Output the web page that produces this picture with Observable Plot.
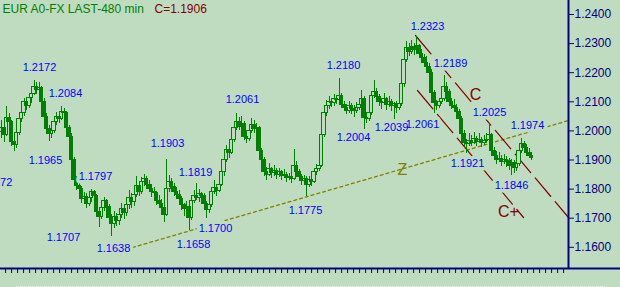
<!DOCTYPE html>
<html><head><meta charset="utf-8">
<script src="https://cdn.jsdelivr.net/npm/d3@7"></script>
<script src="https://cdn.jsdelivr.net/npm/@observablehq/plot@0.6"></script>
<style>
html,body{margin:0;padding:0;background:#c0dcc0;}
#chart{width:620px;height:287px;overflow:hidden;}
</style></head><body><div id="chart"></div>
<script>
// OHLC of EUR 480-min bars
const opens = [
1.1995,1.2010,1.1985,1.2045,1.2030,1.1962,1.1950,1.1992,1.2040,1.2062,
1.2098,1.2085,1.2112,1.2128,1.2150,1.2142,1.2148,1.2100,1.2048,1.2005,
1.1988,1.2000,1.2030,1.2048,1.2040,1.2066,1.2060,1.2010,1.1980,1.1900,
1.1830,1.1812,1.1800,1.1765,1.1772,1.1750,1.1768,1.1790,1.1775,1.1722,
1.1705,1.1735,1.1758,1.1740,1.1700,1.1680,1.1705,1.1690,1.1712,1.1730,
1.1718,1.1745,1.1770,1.1755,1.1780,1.1810,1.1790,1.1825,1.1835,1.1815,
1.1800,1.1790,1.1785,1.1760,1.1750,1.1735,1.1712,1.1800,1.1825,1.1808,
1.1790,1.1780,1.1765,1.1745,1.1730,1.1740,1.1700,1.1760,1.1775,1.1768,
1.1782,1.1775,1.1750,1.1728,1.1745,1.1790,1.1805,1.1795,1.1815,1.1858,
1.1900,1.1935,1.1925,1.1968,1.2010,1.2030,1.2015,1.2025,1.1980,1.1972,
1.2000,1.2020,1.2005,1.2010,1.1930,1.1900,1.1860,1.1850,1.1868,1.1855,
1.1862,1.1848,1.1858,1.1845,1.1850,1.1838,1.1842,1.1835,1.1880,1.1860,
1.1840,1.1828,1.1835,1.1815,1.1830,1.1825,1.1858,1.1870,1.1880,1.1985,
1.2060,1.2085,1.2100,1.2095,1.2110,1.2105,1.2120,1.2090,1.2080,1.2070,
1.2085,1.2075,1.2068,1.2080,1.2090,1.2110,1.2045,1.2040,1.2060,1.2120,
1.2135,1.2115,1.2100,1.2095,1.2108,1.2090,1.2100,1.2085,1.2092,1.2080,
1.2092,1.2160,1.2245,1.2285,1.2270,1.2290,1.2278,1.2292,1.2265,1.2250,
1.2235,1.2220,1.2200,1.2130,1.2095,1.2085,1.2098,1.2110,1.2150,1.2135,
1.2100,1.2085,1.2078,1.2065,1.2040,1.1990,1.1960,1.1955,1.1965,1.1960,
1.1972,1.1962,1.1968,1.1958,1.1965,1.1970,1.1985,1.1930,1.1915,1.1900,
1.1905,1.1892,1.1900,1.1895,1.1880,1.1890,1.1872,1.1885,1.1930,1.1955,
1.1940,1.1925,1.1915];
const highs = [
1.2035,1.2025,1.2085,1.2060,1.2035,1.1980,1.2005,1.2055,1.2080,1.2110,
1.2115,1.2130,1.2145,1.2172,1.2165,1.2168,1.2152,1.2110,1.2060,1.2020,
1.2015,1.2045,1.2062,1.2058,1.2084,1.2078,1.2068,1.2020,1.1990,1.1910,
1.1845,1.1830,1.1810,1.1790,1.1785,1.1782,1.1797,1.1795,1.1780,1.1730,
1.1750,1.1772,1.1765,1.1748,1.1712,1.1722,1.1715,1.1728,1.1750,1.1742,
1.1765,1.1795,1.1785,1.1800,1.1845,1.1822,1.1840,1.1850,1.1842,1.1830,
1.1815,1.1805,1.1792,1.1778,1.1765,1.1745,1.1903,1.1848,1.1835,1.1818,
1.1805,1.1795,1.1775,1.1752,1.1758,1.1748,1.1770,1.1795,1.1819,1.1800,
1.1790,1.1785,1.1758,1.1760,1.1800,1.1830,1.1815,1.1840,1.1870,1.1915,
1.1950,1.1945,1.1985,1.2030,1.2061,1.2045,1.2048,1.2032,1.1995,1.2015,
1.2042,1.2035,1.2025,1.2015,1.1940,1.1910,1.1875,1.1888,1.1875,1.1880,
1.1870,1.1872,1.1865,1.1868,1.1858,1.1855,1.1850,1.1935,1.1895,1.1868,
1.1850,1.1848,1.1842,1.1842,1.1840,1.1870,1.1885,1.1895,1.1995,1.2075,
1.2105,1.2118,1.2112,1.2125,1.2122,1.2180,1.2128,1.2102,1.2092,1.2100,
1.2095,1.2088,1.2098,1.2105,1.2140,1.2118,1.2058,1.2075,1.2135,1.2172,
1.2145,1.2125,1.2112,1.2130,1.2115,1.2118,1.2108,1.2098,1.2100,1.2108,
1.2175,1.2262,1.2308,1.2300,1.2310,1.2302,1.2323,1.2298,1.2280,1.2262,
1.2255,1.2232,1.2210,1.2140,1.2105,1.2112,1.2130,1.2189,1.2165,1.2142,
1.2112,1.2108,1.2092,1.2075,1.2048,1.2000,1.1972,1.1990,1.1985,1.1995,
1.1982,1.1992,1.1978,1.1985,1.1990,1.2025,1.1992,1.1942,1.1928,1.1925,
1.1915,1.1920,1.1912,1.1905,1.1902,1.1898,1.1895,1.1945,1.1974,1.1965,
1.1952,1.1938,1.1925];
const lows = [
1.1975,1.1960,1.1980,1.2010,1.1945,1.1930,1.1940,1.1985,1.2030,1.2050,
1.2070,1.2078,1.2095,1.2120,1.2125,1.2130,1.2090,1.2035,1.1990,1.1965,
1.1975,1.1992,1.2020,1.2025,1.2035,1.2045,1.2000,1.1965,1.1890,1.1815,
1.1795,1.1785,1.1750,1.1748,1.1735,1.1740,1.1755,1.1760,1.1705,1.1668,
1.1695,1.1722,1.1720,1.1680,1.1638,1.1665,1.1670,1.1675,1.1700,1.1695,
1.1705,1.1730,1.1735,1.1740,1.1770,1.1775,1.1782,1.1810,1.1800,1.1788,
1.1772,1.1765,1.1745,1.1738,1.1720,1.1685,1.1705,1.1790,1.1795,1.1775,
1.1765,1.1748,1.1728,1.1705,1.1715,1.1658,1.1692,1.1750,1.1760,1.1755,
1.1760,1.1738,1.1700,1.1715,1.1738,1.1780,1.1775,1.1788,1.1808,1.1845,
1.1890,1.1905,1.1918,1.1960,1.2000,1.2000,1.2005,1.1968,1.1958,1.1965,
1.1992,1.1990,1.1985,1.1920,1.1885,1.1845,1.1830,1.1842,1.1838,1.1845,
1.1832,1.1840,1.1830,1.1835,1.1822,1.1828,1.1820,1.1830,1.1850,1.1828,
1.1812,1.1815,1.1775,1.1805,1.1808,1.1818,1.1848,1.1860,1.1875,1.1978,
1.2050,1.2075,1.2080,1.2085,1.2090,1.2098,1.2078,1.2065,1.2055,1.2060,
1.2058,1.2045,1.2060,1.2070,1.2080,1.2004,1.2025,1.2032,1.2052,1.2110,
1.2100,1.2085,1.2075,1.2088,1.2070,1.2080,1.2068,1.2039,1.2060,1.2070,
1.2085,1.2150,1.2235,1.2255,1.2262,1.2260,1.2270,1.2250,1.2238,1.2220,
1.2205,1.2185,1.2115,1.2061,1.2070,1.2078,1.2090,1.2102,1.2120,1.2090,
1.2072,1.2068,1.2050,1.2030,1.1975,1.1945,1.1921,1.1945,1.1948,1.1952,
1.1948,1.1955,1.1942,1.1950,1.1955,1.1962,1.1920,1.1900,1.1885,1.1890,
1.1878,1.1885,1.1875,1.1865,1.1846,1.1855,1.1862,1.1878,1.1922,1.1928,
1.1915,1.1905,1.1898];
const closes = [
1.2010,1.1985,1.2045,1.2030,1.1962,1.1950,1.1992,1.2040,1.2062,1.2098,
1.2085,1.2112,1.2128,1.2150,1.2142,1.2148,1.2100,1.2048,1.2005,1.1988,
1.2000,1.2030,1.2048,1.2040,1.2066,1.2060,1.2010,1.1980,1.1900,1.1830,
1.1812,1.1800,1.1765,1.1772,1.1750,1.1768,1.1790,1.1775,1.1722,1.1705,
1.1735,1.1758,1.1740,1.1700,1.1680,1.1705,1.1690,1.1712,1.1730,1.1718,
1.1745,1.1770,1.1755,1.1780,1.1810,1.1790,1.1825,1.1835,1.1815,1.1800,
1.1790,1.1785,1.1760,1.1750,1.1735,1.1712,1.1800,1.1825,1.1808,1.1790,
1.1780,1.1765,1.1745,1.1730,1.1740,1.1700,1.1760,1.1775,1.1768,1.1782,
1.1775,1.1750,1.1728,1.1745,1.1790,1.1805,1.1795,1.1815,1.1858,1.1900,
1.1935,1.1925,1.1968,1.2010,1.2030,1.2015,1.2025,1.1980,1.1972,1.2000,
1.2020,1.2005,1.2010,1.1930,1.1900,1.1860,1.1850,1.1868,1.1855,1.1862,
1.1848,1.1858,1.1845,1.1850,1.1838,1.1842,1.1835,1.1880,1.1860,1.1840,
1.1828,1.1835,1.1815,1.1830,1.1825,1.1858,1.1870,1.1880,1.1985,1.2060,
1.2085,1.2100,1.2095,1.2110,1.2105,1.2120,1.2090,1.2080,1.2070,1.2085,
1.2075,1.2068,1.2080,1.2090,1.2110,1.2045,1.2040,1.2060,1.2120,1.2135,
1.2115,1.2100,1.2095,1.2108,1.2090,1.2100,1.2085,1.2092,1.2080,1.2092,
1.2160,1.2245,1.2285,1.2270,1.2290,1.2278,1.2292,1.2265,1.2250,1.2235,
1.2220,1.2200,1.2130,1.2095,1.2085,1.2098,1.2110,1.2150,1.2135,1.2100,
1.2085,1.2078,1.2065,1.2040,1.1990,1.1960,1.1955,1.1965,1.1960,1.1972,
1.1962,1.1968,1.1958,1.1965,1.1970,1.1985,1.1930,1.1915,1.1900,1.1905,
1.1892,1.1900,1.1895,1.1880,1.1890,1.1872,1.1885,1.1930,1.1955,1.1940,
1.1925,1.1915,1.1906];

// price axis ticks
const yTicks = [1.16, 1.17, 1.18, 1.19, 1.20, 1.21, 1.22, 1.23, 1.24];

// pivot annotations (text, bar position, price position)
const pivotText = ["1.1972","1.2172","1.2084","1.1965","1.1797","1.1707","1.1638","1.1903","1.1819","1.1658","1.1700","1.2061","1.1775","1.2180","1.2004","1.2039","1.2061","1.2323","1.2189","1.2025","1.1974","1.1921","1.1846"];
const pivotBar  = [-2.4, 15.2, 25.6, 17.6, 37.6, 24.8, 44.8, 66.4, 77.6, 76.8, 85.6, 96.4, 121.6, 136.8, 140.8, 156.0, 168.4, 170.4, 179.6, 195.2, 210.4, 186.4, 204.0];
const pivotPrice= [1.18227,1.22179,1.21285,1.18983,1.18433,1.16337,1.15959,1.19567,1.18570,1.16096,1.16646,1.21079,1.17265,1.22247,1.19773,1.20117,1.20220,1.23588,1.22316,1.20632,1.20186,1.18880,1.18124];

// trend line Z and channel lines C / C+
const zBar = [52.4, 226.8], zPrice = [1.15993, 1.20357];
const cBar = [165.6, 226.8], cPrice = [1.23278, 1.17024];
const cpBar = [166.4, 208.8], cpPrice = [1.21388, 1.17024];
const tagText = ["Z", "C", "C+"];
const tagBar = [160.4, 189.6, 202.8];
const tagPrice = [1.18674, 1.21251, 1.17230];
const tagColor = ["#808000", "#800000", "#800000"];

const titleText = "EUR A0-FX LAST-480 min";
const lastText = "C=1.1906";

const GREEN = "#008000", BG = "#c0dcc0", NAVY = "#000080", BLUE = "#0000ff";

const bars = closes.map((c, i) => ({i, open: opens[i], high: highs[i], low: lows[i], close: c}));
const upBars = bars.filter(d => d.close >= d.open);
const downBars = bars.filter(d => d.close < d.open);
const pivots = pivotText.map((t, k) => ({t, x: pivotBar[k], y: pivotPrice[k]}));
const tags = tagText.map((t, k) => ({t, x: tagBar[k], y: tagPrice[k], c: tagColor[k]}));
const toLine = (xs, ys) => xs.map((x, k) => ({x, y: ys[k]}));
const xTicks = d3.range(94).map(k => (4.1 + 6 * k) / 2.5);
const yMin = 1.152715, yMax = 1.244811;
const W = 0.7;

const chart = Plot.plot({
  width: 620, height: 287,
  marginTop: 0, marginLeft: 0, marginRight: 52, marginBottom: 19,
  style: {background: BG, color: NAVY, fontFamily: "'Liberation Sans', Arial, sans-serif", fontSize: "12px", overflow: "hidden"},
  x: {domain: [-0.4, 226.8], ticks: xTicks, tickFormat: () => "", tickSize: 5, label: null},
  y: {domain: [yMin, yMax], axis: "right", ticks: yTicks, tickFormat: d3.format(".4f"), tickSize: 5, tickPadding: 1, label: null},
  marks: [
    Plot.ruleY([1.14653], {x1: 6, x2: 241.6, stroke: "#eef4ee", strokeDasharray: "1,1"}),
    Plot.line(toLine(zBar, zPrice), {x: "x", y: "y", stroke: "#808000", strokeWidth: 1.3, strokeDasharray: "3,3"}),
    Plot.line(toLine(cBar, cPrice), {x: "x", y: "y", stroke: "#800000", strokeWidth: 1.2, strokeDasharray: "24,7"}),
    Plot.line(toLine(cpBar, cpPrice), {x: "x", y: "y", stroke: "#800000", strokeWidth: 1.2, strokeDasharray: "24,7"}),
    Plot.ruleX(bars, {x: "i", y1: "low", y2: "high", stroke: GREEN, strokeWidth: 1, shapeRendering: "crispEdges"}),
    Plot.rect(upBars, {x1: d => d.i - W, x2: d => d.i + W, y1: "open", y2: "close", fill: BG, stroke: GREEN, strokeWidth: 1, shapeRendering: "crispEdges"}),
    Plot.rect(downBars, {x1: d => d.i - W, x2: d => d.i + W, y1: "open", y2: "close", fill: GREEN, stroke: GREEN, strokeWidth: 1, shapeRendering: "crispEdges"}),
    // label backgrounds first, then the label text, so no label hides another
    Plot.text(pivots, {x: "x", y: "y", text: "t", fill: BG, fontSize: 11, stroke: BG, strokeWidth: 7, textAnchor: "middle"}),
    Plot.text(pivots, {x: "x", y: "y", text: "t", fill: BLUE, fontSize: 11, textAnchor: "middle"}),
    Plot.text(tags, {x: "x", y: "y", text: "t", fill: "c", fontSize: 16, textAnchor: "middle"}),
    Plot.ruleX([226.8], {stroke: NAVY, strokeWidth: 2}),
    Plot.ruleY([yMin], {x1: -0.4, x2: 247.6, stroke: NAVY, strokeWidth: 2}),
    Plot.text([titleText], {frameAnchor: "top-left", dx: 2, dy: 12, lineAnchor: "bottom", textAnchor: "start", fill: GREEN, fontSize: 12}),
    Plot.text([lastText], {frameAnchor: "top-left", dx: 154, dy: 12, lineAnchor: "bottom", textAnchor: "start", fill: "#800000", fontSize: 12})
  ]
});
document.getElementById("chart").appendChild(chart);
</script>
</body></html>
